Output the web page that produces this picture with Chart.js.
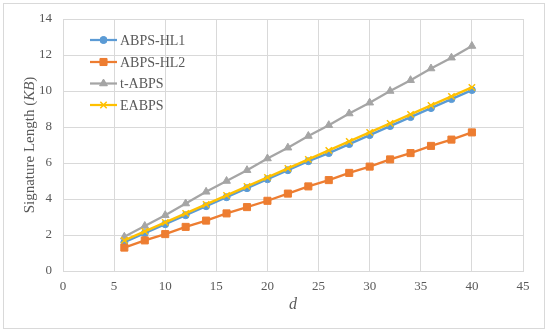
<!DOCTYPE html>
<html>
<head>
<meta charset="utf-8">
<script src="https://cdn.jsdelivr.net/npm/chart.js@4"></script>
<style>
  html, body { margin: 0; padding: 0; background: #fff; }
  #wrap { position: relative; width: 550px; height: 334px; }
  #c { display: block; }
  #frame { position: absolute; left: 3px; top: 3px; width: 540px; height: 324px; border: 1px solid #d9d9d9; pointer-events: none; }
</style>
</head>
<body>
<div id="wrap">
  <canvas id="c" width="550" height="334"></canvas>
  <div id="frame"></div>
</div>
<script>
// ─── data ───────────────────────────────────────────
const dValues  = [6, 8, 10, 12, 14, 16, 18, 20, 22, 24, 26, 28, 30, 32, 34, 36, 38, 40];
const abpsHL1  = [1.6, 2.1, 2.6, 3.1, 3.6, 4.1, 4.6, 5.1, 5.6, 6.1, 6.55, 7.05, 7.55, 8.05, 8.55, 9.05, 9.55, 10.05];
const abpsHL2  = [1.3, 1.7, 2.05, 2.45, 2.8, 3.2, 3.55, 3.9, 4.3, 4.7, 5.05, 5.45, 5.8, 6.2, 6.55, 6.95, 7.3, 7.7];
const tABPS    = [1.9, 2.5, 3.1, 3.75, 4.4, 5.0, 5.6, 6.25, 6.85, 7.5, 8.1, 8.75, 9.35, 10.0, 10.6, 11.25, 11.85, 12.5];
const eABPS    = [1.7, 2.2, 2.7, 3.2, 3.7, 4.2, 4.7, 5.2, 5.7, 6.2, 6.7, 7.2, 7.7, 8.2, 8.7, 9.2, 9.7, 10.2];
const xTicks   = [0, 5, 10, 15, 20, 25, 30, 35, 40, 45];
const yTicks   = [0, 2, 4, 6, 8, 10, 12, 14];

const SERIF = "'Liberation Serif','Times New Roman',serif";
const TXT = '#595959';
const GRID = '#d9d9d9';

function pts(ys) { return dValues.map((d, i) => ({ x: d, y: ys[i] })); }

function series(label, ys, color, style, radius, width, order) {
  return {
    label: label, data: pts(ys),
    borderColor: color, backgroundColor: color,
    borderWidth: width, pointStyle: style, pointRadius: radius,
    pointBackgroundColor: color, pointBorderColor: color, pointBorderWidth: style === 'crossRot' ? 1.5 : 1,
    tension: 0, order: order
  };
}

// ─── legend inside the plot + y title with italic KB ───
const extras = {
  id: 'extras',
  afterDraw(chart) {
    const ctx = chart.ctx;
    ctx.save();
    const rows = [40, 62, 83.5, 105];
    chart.data.datasets.forEach((ds, i) => {
      const y = rows[i];
      ctx.strokeStyle = ds.borderColor;
      ctx.lineWidth = ds.borderWidth;
      ctx.beginPath(); ctx.moveTo(90, y); ctx.lineTo(117, y); ctx.stroke();
      ctx.fillStyle = ds.backgroundColor;
      ctx.lineWidth = ds.pointBorderWidth;
      Chart.helpers.drawPoint(ctx, { pointStyle: ds.pointStyle, radius: ds.pointRadius, borderWidth: ds.pointBorderWidth, rotation: 0 }, 103.5, y);
      if (ds.pointStyle !== 'crossRot') ctx.fill();
      ctx.fillStyle = TXT;
      ctx.font = '14px ' + SERIF;
      ctx.textBaseline = 'middle';
      ctx.textAlign = 'left';
      ctx.fillText(ds.label, 120, y + 1);
    });

    // y axis title
    const parts = [['Signature Length (', ''], ['KB', 'italic '], [')', '']];
    ctx.translate(30, 145);
    ctx.rotate(-Math.PI / 2);
    let total = 0;
    parts.forEach(p => { ctx.font = p[1] + '15px ' + SERIF; total += ctx.measureText(p[0]).width; });
    let x = -total / 2;
    ctx.textBaseline = 'middle';
    ctx.fillStyle = TXT;
    parts.forEach(p => {
      ctx.font = p[1] + '15px ' + SERIF;
      ctx.fillText(p[0], x, 0);
      x += ctx.measureText(p[0]).width;
    });
    ctx.restore();
  }
};

new Chart(document.getElementById('c'), {
  type: 'line',
  data: {
    datasets: [
      series('ABPS-HL1', abpsHL1, '#5b9bd5', 'circle', 3.5, 2.25, 4),
      series('ABPS-HL2', abpsHL2, '#ed7d31', 'rect', 5, 2.25, 3),
      series('t-ABPS', tABPS, '#a5a5a5', 'triangle', 4.5, 2.25, 2),
      series('EABPS', eABPS, '#ffc000', 'crossRot', 4.5, 2.25, 1)
    ]
  },
  options: {
    responsive: false,
    animation: false,
    layout: { padding: { left: 0, right: 27, top: 19, bottom: 0 } },
    plugins: { legend: { display: false }, tooltip: { enabled: false } },
    scales: {
      x: {
        type: 'linear', min: 0, max: 45,
        afterBuildTicks: s => { s.ticks = xTicks.map(v => ({ value: v })); },
        afterFit: s => { s.height = 63; },
        grid: { color: GRID, lineWidth: 1, drawTicks: false },
        border: { color: GRID },
        ticks: { color: TXT, font: { family: SERIF, size: 13 }, padding: 8, maxRotation: 0 },
        title: { display: true, text: 'd', color: TXT, font: { family: SERIF, size: 16, style: 'italic' }, padding: { top: 20, bottom: 20 } }
      },
      y: {
        type: 'linear', min: 0, max: 14,
        afterBuildTicks: s => { s.ticks = yTicks.map(v => ({ value: v })); },
        afterFit: s => { s.width = 63; },
        grid: { color: GRID, lineWidth: 1, drawTicks: false },
        border: { color: GRID },
        ticks: { color: TXT, font: { family: SERIF, size: 13 }, padding: 11 }
      }
    }
  },
  plugins: [extras]
});
</script>
</body>
</html>
